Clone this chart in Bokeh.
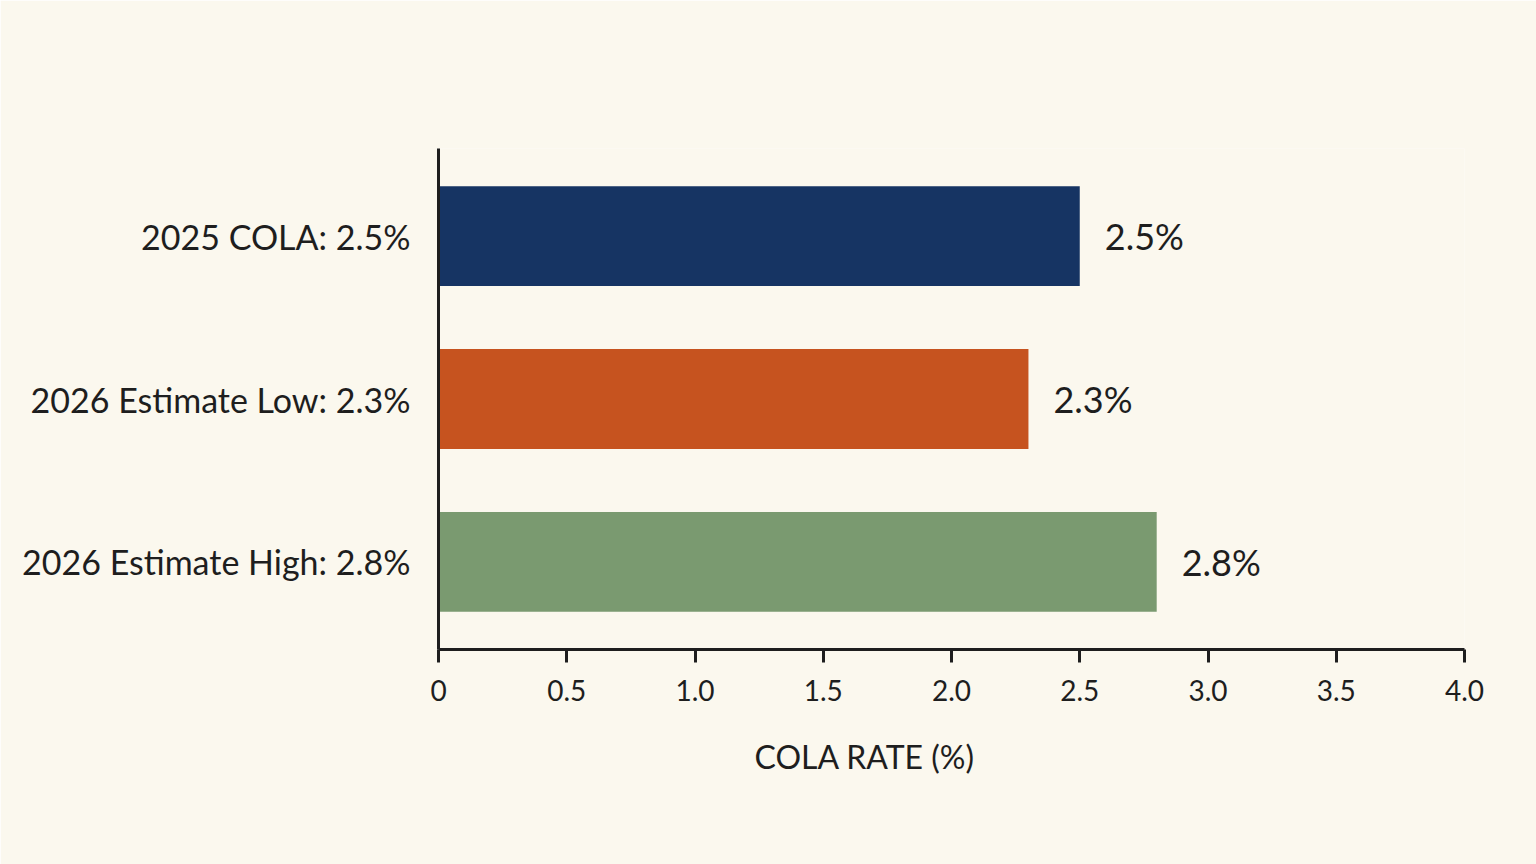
from bokeh.plotting import figure
from bokeh.models import FactorRange, Range1d, FixedTicker, CustomJSTickFormatter, ColumnDataSource, Title
from bokeh.core.properties import value
from bokeh.embed import file_html
from bokeh.resources import INLINE

categories = ["2025 COLA: 2.5%", "2026 Estimate Low: 2.3%", "2026 Estimate High: 2.8%"]
rates = [2.5, 2.3, 2.8]
value_labels = ["2.5%", "2.3%", "2.8%"]
colors = ["#163463", "#C6531F", "#7A9A70"]
x_ticks = [0, 0.5, 1.0, 1.5, 2.0, 2.5, 3.0, 3.5, 4.0]
x_title = "COLA RATE (%)"

BG = "#FBF8EE"
INK = "#1E1E1E"
FONT = "Lato"

src = ColumnDataSource(dict(cat=categories, rate=rates, lab=value_labels, color=colors))

p = figure(
    width=1536, height=864,
    y_range=FactorRange(factors=list(reversed(categories)), range_padding=0.025),
    x_range=Range1d(0, 4),
    output_backend="svg", toolbar_location=None,
    min_border_left=438, min_border_right=72, min_border_top=148, min_border_bottom=215,
)
p.background_fill_color = BG
p.border_fill_color = BG
p.outline_line_color = None
p.xgrid.grid_line_color = None
p.ygrid.grid_line_color = None

p.hbar(y="cat", right="rate", left=0, height=0.613, color="color", line_color=None, source=src)
p.text(x="rate", y="cat", text="lab", source=src, x_offset=25, text_baseline="middle",
       text_align="left", text_font=value(FONT), text_font_size="36px", text_color=INK)

xa = p.xaxis[0]
xa.ticker = FixedTicker(ticks=x_ticks)
xa.formatter = CustomJSTickFormatter(code="return tick == 0 ? '0' : tick.toFixed(1);")
xa.axis_line_width = 3
xa.axis_line_color = INK
xa.major_tick_line_width = 3
xa.major_tick_line_color = INK
xa.major_tick_out = 13
xa.major_tick_in = 0
xa.minor_tick_line_color = None
xa.major_label_text_font = FONT
xa.major_label_text_font_size = "28px"
xa.major_label_text_color = INK
xa.major_label_standoff = 17

t = Title(text=x_title, align="left", offset=316, standoff=62,
          text_font=FONT, text_font_size="32px", text_font_style="normal", text_color=INK)
p.add_layout(t, "below")

ya = p.yaxis[0]
ya.axis_line_width = 3
ya.axis_line_color = INK
ya.major_tick_line_color = None
ya.minor_tick_line_color = None
ya.major_label_text_font = FONT
ya.major_label_text_font_size = "34px"
ya.major_label_text_color = INK
ya.major_label_standoff = 22

open("out.html", "w").write(file_html(p, INLINE))
